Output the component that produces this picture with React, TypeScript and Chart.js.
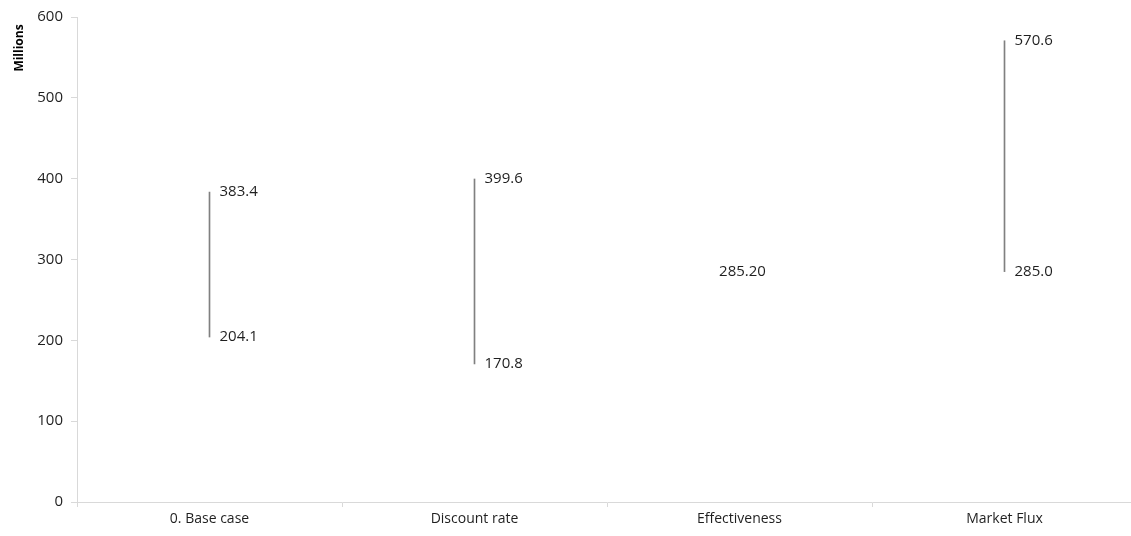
import React, { useEffect, useRef } from "react";
import { Chart, registerables } from "chart.js";

Chart.register(...registerables);

const categories = ["0. Base case", "Discount rate", "Effectiveness", "Market Flux"];
const lowValues = [204.1, 170.8, 285.2, 285.0];
const highValues = [383.4, 399.6, 285.2, 570.6];
const lowLabels = ["204.1", "170.8", "", "285.0"];
const highLabels = ["383.4", "399.6", "", "570.6"];
const centerLabels = ["", "", "285.20", ""];
const yTicks = [0, 100, 200, 300, 400, 500, 600];
const yAxisTitle = "Millions";

const FONT = "'Open Sans', 'Noto Sans', sans-serif";

export default function App() {
  const ref = useRef<HTMLCanvasElement | null>(null);
  useEffect(() => {
    if (!ref.current) return;
    const labelPlugin = {
      id: "hlLabels",
      afterDatasetsDraw(chart: any) {
        const ctx = chart.ctx;
        const xs = chart.scales.x;
        const ys = chart.scales.y;
        ctx.save();
        ctx.font = `15px ${FONT}`;
        ctx.fillStyle = "#1f1f1f";
        ctx.textBaseline = "middle";
        categories.forEach((_, i) => {
          const x = xs.getPixelForValue(i);
          if (highLabels[i]) {
            ctx.textAlign = "left";
            ctx.fillText(highLabels[i], x + 10, ys.getPixelForValue(highValues[i]));
          }
          if (lowLabels[i]) {
            ctx.textAlign = "left";
            ctx.fillText(lowLabels[i], x + 10, ys.getPixelForValue(lowValues[i]));
          }
          if (centerLabels[i]) {
            ctx.textAlign = "center";
            ctx.fillText(centerLabels[i], x + 3, ys.getPixelForValue(highValues[i]));
          }
        });
        ctx.translate(20, 48);
        ctx.rotate(-Math.PI / 2);
        ctx.font = `bold 12px ${FONT}`;
        ctx.fillStyle = "#000";
        ctx.textAlign = "center";
        ctx.fillText(yAxisTitle, 0, 0);
        ctx.restore();
      },
    };
    const chart = new Chart(ref.current, {
      type: "bar",
      data: {
        labels: categories,
        datasets: [
          {
            data: categories.map((_, i) => [lowValues[i], highValues[i]]) as any,
            backgroundColor: "#808080",
            borderWidth: 0,
            barThickness: 1,
            borderSkipped: false,
          },
        ],
      },
      options: {
        animation: false,
        responsive: false,
        maintainAspectRatio: false,
        layout: { padding: { top: 15, left: 0, right: 0, bottom: 0 } },
        plugins: { legend: { display: false }, tooltip: { enabled: false } },
        scales: {
          x: {
            offset: true,
            grid: {
              offset: true,
              drawOnChartArea: false,
              drawTicks: true,
              tickLength: 5,
              color: "#d9d9d9",
            },
            border: { color: "#d9d9d9", width: 1 },
            ticks: {
              font: { family: FONT, size: 14 },
              color: "#1f1f1f",
              padding: 4,
            },
            afterFit(scale: any) {
              scale.height = 34;
            },
          },
          y: {
            min: 0,
            max: 600,
            afterBuildTicks(scale: any) {
              scale.ticks = yTicks.map((v) => ({ value: v }));
            },
            grid: {
              drawOnChartArea: false,
              drawTicks: true,
              tickLength: 6,
              color: "#d9d9d9",
            },
            border: { color: "#d9d9d9", width: 1 },
            ticks: {
              font: { family: FONT, size: 15 },
              color: "#1f1f1f",
              padding: 8,
            },
            afterFit(scale: any) {
              scale.width = 77;
            },
          },
        },
      },
      plugins: [labelPlugin],
    });
    return () => chart.destroy();
  }, []);
  return (
    <div style={{ position: "fixed", left: 0, top: 0, width: 1131, height: 536, overflow: "hidden", background: "#fff" }}>
      <canvas ref={ref} width={1137} height={536} style={{ display: "block", width: 1137, height: 536 }} />
    </div>
  );
}
